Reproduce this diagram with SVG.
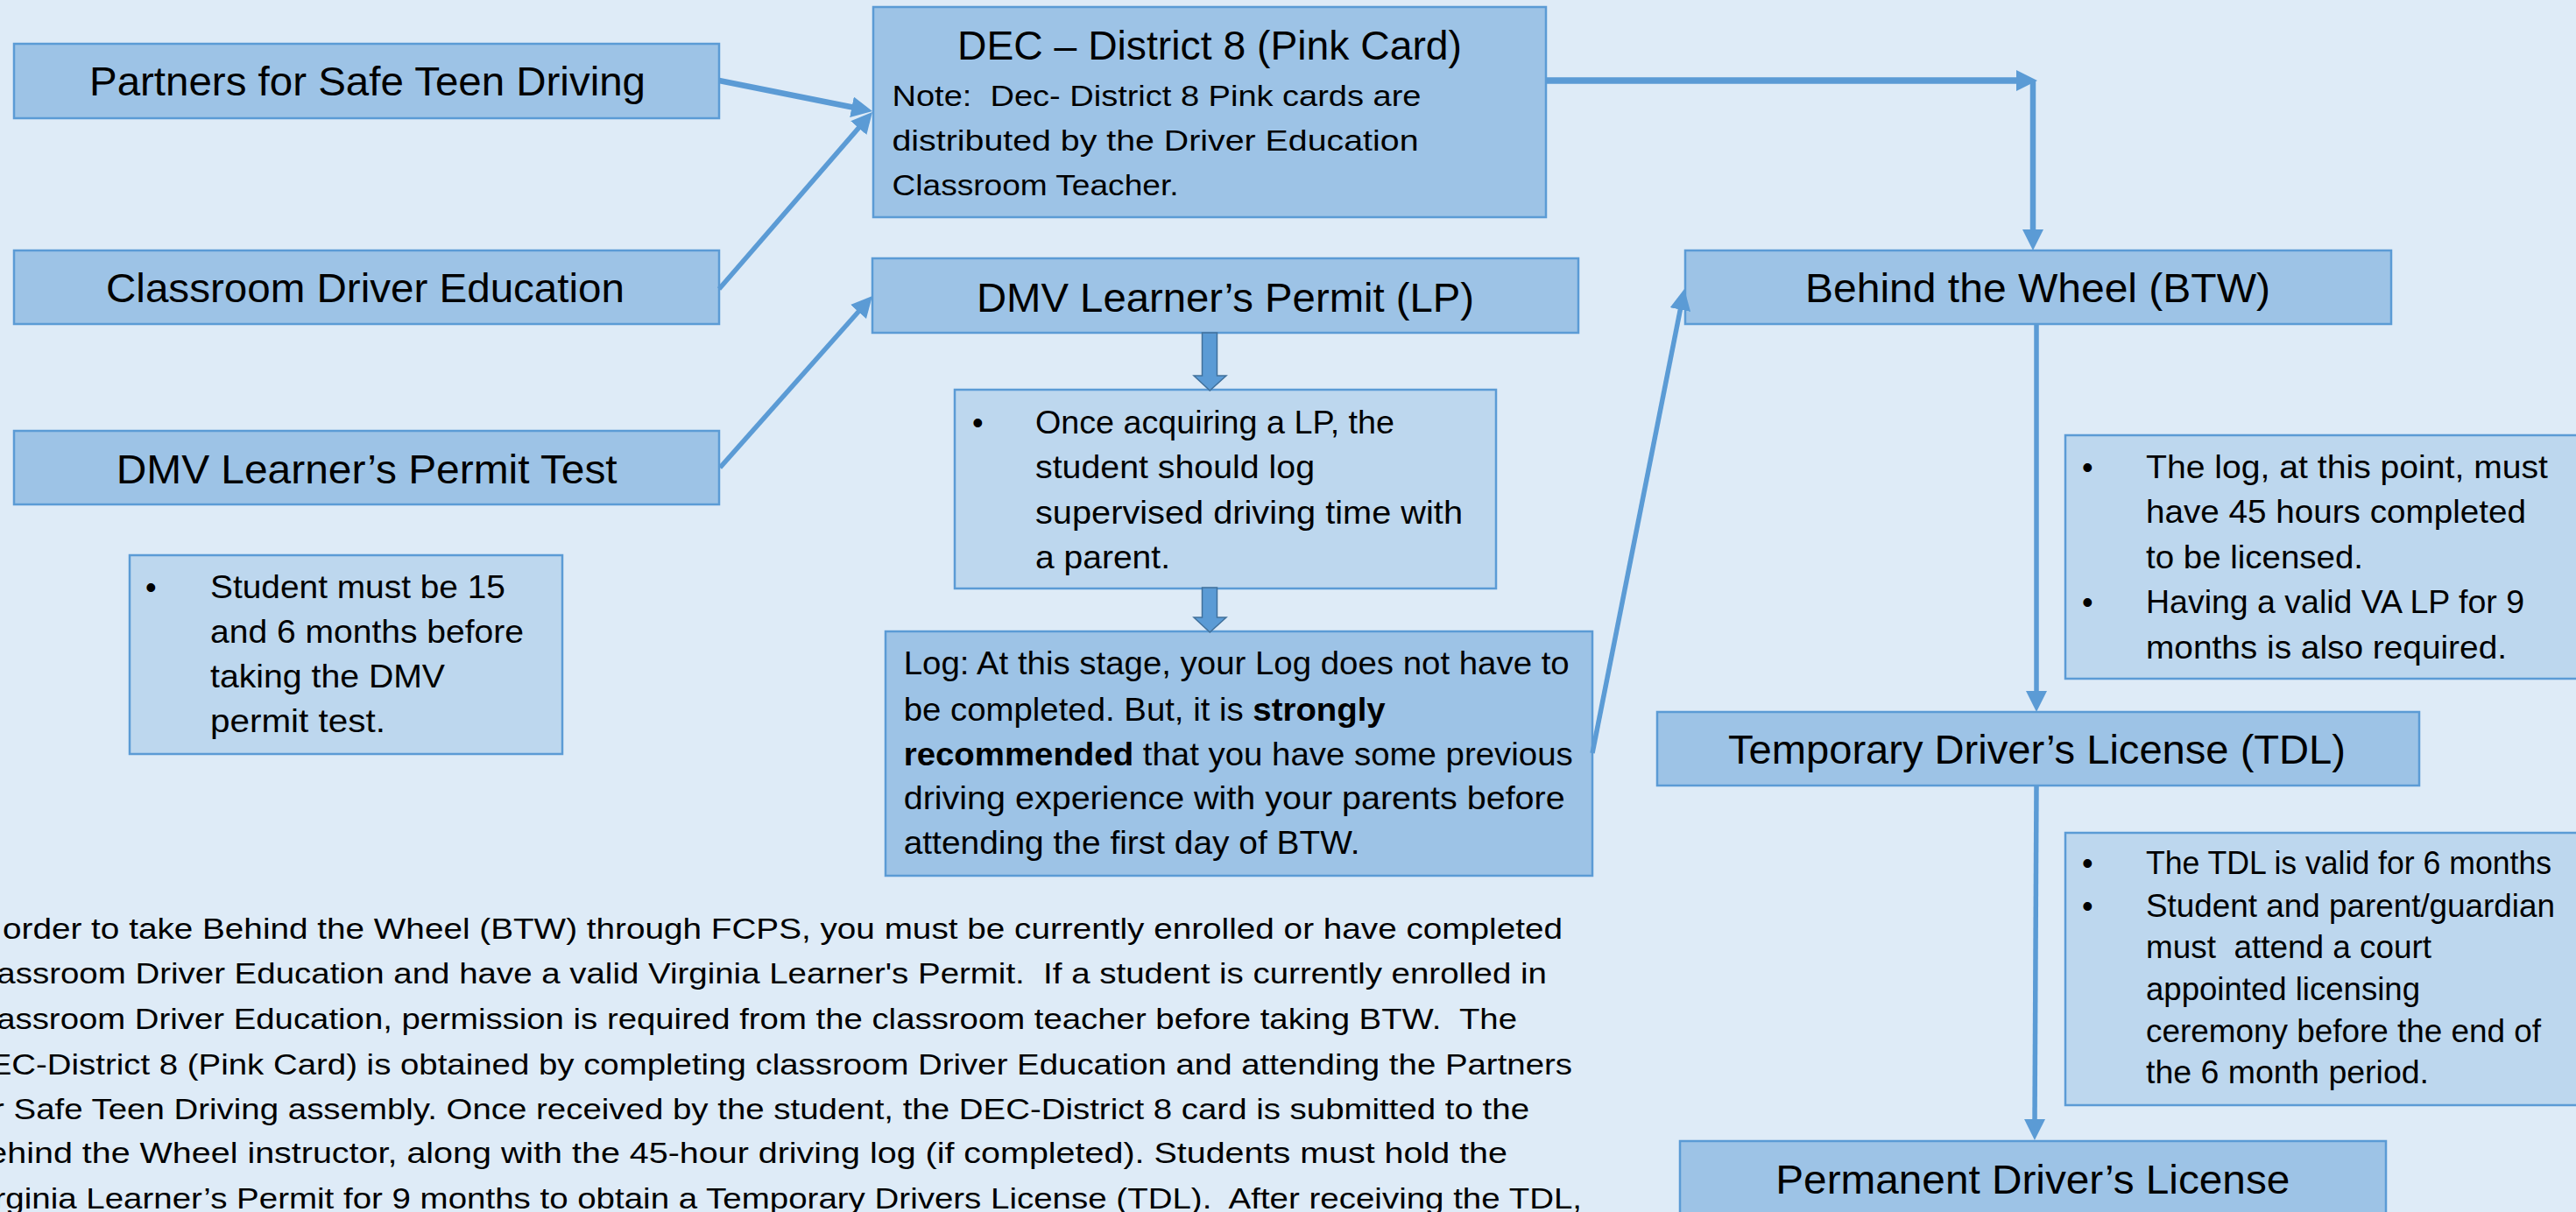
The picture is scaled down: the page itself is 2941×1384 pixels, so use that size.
<svg xmlns="http://www.w3.org/2000/svg" width="2941" height="1384" viewBox="0 0 2941 1384">
<style>
.box{fill:#9DC3E6;stroke:#5B9BD5;stroke-width:2.5}
.note{fill:#BDD7EE;stroke:#5B9BD5;stroke-width:2.5}
text{font-family:"Liberation Sans",Arial,sans-serif;fill:#000}
.t{font-size:46px;text-anchor:middle}
.n{font-size:36px}
.s{font-size:34px}
.c{fill:none;stroke:#5B9BD5;stroke-width:5.5}
.blk{fill:#5B9BD5;stroke:#41719C;stroke-width:1.5}
</style>
<defs>
<marker id="arr" markerUnits="userSpaceOnUse" markerWidth="26" markerHeight="26" refX="6" refY="12" orient="auto">
<path d="M0,0 L24,12 L0,24 z" fill="#5B9BD5"/>
</marker>
</defs>
<rect x="0" y="0" width="2941" height="1384" fill="#DEEBF7"/>

<g id="partners">
<rect class="box" x="16" y="50" width="805" height="85"/>
<text class="t" x="419.5" y="109" textLength="635" lengthAdjust="spacingAndGlyphs">Partners for Safe Teen Driving</text>
</g>
<g id="classroom">
<rect class="box" x="16" y="286" width="805" height="84"/>
<text class="t" x="417" y="345" textLength="592" lengthAdjust="spacingAndGlyphs">Classroom Driver Education</text>
</g>
<g id="dmv-test">
<rect class="box" x="16" y="492" width="805" height="84"/>
<text class="t" x="418.7" y="552" textLength="572" lengthAdjust="spacingAndGlyphs">DMV Learner’s Permit Test</text>
</g>
<g id="student-note">
<rect class="note" x="148" y="634" width="494" height="227"/>
<text class="n" x="166" y="683">•</text>
<text class="n" x="240" y="683" textLength="337" lengthAdjust="spacingAndGlyphs">Student must be 15</text>
<text class="n" x="240" y="734" textLength="358" lengthAdjust="spacingAndGlyphs">and 6 months before</text>
<text class="n" x="240" y="785" textLength="268" lengthAdjust="spacingAndGlyphs">taking the DMV</text>
<text class="n" x="240" y="836" textLength="200" lengthAdjust="spacingAndGlyphs">permit test.</text>
</g>
<g id="dec">
<rect class="box" x="997" y="8" width="768" height="240"/>
<text class="t" x="1381" y="68" textLength="576" lengthAdjust="spacingAndGlyphs">DEC – District 8 (Pink Card)</text>
<text class="s" x="1018.5" y="121" xml:space="preserve" textLength="604" lengthAdjust="spacingAndGlyphs">Note:  Dec- District 8 Pink cards are</text>
<text class="s" x="1018.5" y="172" textLength="601" lengthAdjust="spacingAndGlyphs">distributed by the Driver Education</text>
<text class="s" x="1018.5" y="223" textLength="327" lengthAdjust="spacingAndGlyphs">Classroom Teacher.</text>
</g>
<g id="lp">
<rect class="box" x="996" y="295" width="806" height="85"/>
<text class="t" x="1399" y="356" textLength="568" lengthAdjust="spacingAndGlyphs">DMV Learner’s Permit (LP)</text>
</g>
<g id="lp-note">
<rect class="note" x="1090" y="445" width="618" height="227"/>
<text class="n" x="1110" y="495">•</text>
<text class="n" x="1182" y="495" textLength="410" lengthAdjust="spacingAndGlyphs">Once acquiring a LP, the</text>
<text class="n" x="1182" y="546" textLength="319" lengthAdjust="spacingAndGlyphs">student should log</text>
<text class="n" x="1182" y="598" textLength="488" lengthAdjust="spacingAndGlyphs">supervised driving time with</text>
<text class="n" x="1182" y="649" textLength="154" lengthAdjust="spacingAndGlyphs">a parent.</text>
</g>
<g id="log">
<rect class="box" x="1011" y="721" width="807" height="279"/>
<text class="n" x="1031.7" y="770" textLength="760" lengthAdjust="spacingAndGlyphs">Log: At this stage, your Log does not have to</text>
<text class="n" x="1031.7" y="822.6" textLength="550" lengthAdjust="spacingAndGlyphs">be completed. But, it is <tspan font-weight="bold">strongly</tspan></text>
<text class="n" x="1031.7" y="873.5" textLength="764" lengthAdjust="spacingAndGlyphs"><tspan font-weight="bold">recommended</tspan> that you have some previous</text>
<text class="n" x="1031.7" y="924.4" textLength="755" lengthAdjust="spacingAndGlyphs">driving experience with your parents before</text>
<text class="n" x="1031.7" y="975" textLength="521" lengthAdjust="spacingAndGlyphs">attending the first day of BTW.</text>
</g>
<g id="btw">
<rect class="box" x="1924" y="286" width="806" height="84"/>
<text class="t" x="2326.5" y="345" textLength="531" lengthAdjust="spacingAndGlyphs">Behind the Wheel (BTW)</text>
</g>
<g id="btw-note">
<rect class="note" x="2358" y="497" width="600" height="278"/>
<text class="n" x="2377" y="546">•</text>
<text class="n" x="2450" y="546" textLength="459" lengthAdjust="spacingAndGlyphs">The log, at this point, must</text>
<text class="n" x="2450" y="597" textLength="434" lengthAdjust="spacingAndGlyphs">have 45 hours completed</text>
<text class="n" x="2450" y="649" textLength="248" lengthAdjust="spacingAndGlyphs">to be licensed.</text>
<text class="n" x="2377" y="700">•</text>
<text class="n" x="2450" y="700" textLength="432" lengthAdjust="spacingAndGlyphs">Having a valid VA LP for 9</text>
<text class="n" x="2450" y="752" textLength="412" lengthAdjust="spacingAndGlyphs">months is also required.</text>
</g>
<g id="tdl">
<rect class="box" x="1892" y="813" width="870" height="84"/>
<text class="t" x="2325.5" y="872" textLength="705" lengthAdjust="spacingAndGlyphs">Temporary Driver’s License (TDL)</text>
</g>
<g id="tdl-note">
<rect class="note" x="2358" y="951" width="600" height="311"/>
<text class="n" x="2377" y="998">•</text>
<text class="n" x="2450" y="998" textLength="463" lengthAdjust="spacingAndGlyphs">The TDL is valid for 6 months</text>
<text class="n" x="2377" y="1047">•</text>
<text class="n" x="2450" y="1047" textLength="467" lengthAdjust="spacingAndGlyphs">Student and parent/guardian</text>
<text class="n" x="2450" y="1094" xml:space="preserve" textLength="326" lengthAdjust="spacingAndGlyphs">must  attend a court</text>
<text class="n" x="2450" y="1142" textLength="313" lengthAdjust="spacingAndGlyphs">appointed licensing</text>
<text class="n" x="2450" y="1190" textLength="451" lengthAdjust="spacingAndGlyphs">ceremony before the end of</text>
<text class="n" x="2450" y="1237" textLength="323" lengthAdjust="spacingAndGlyphs">the 6 month period.</text>
</g>
<g id="permanent">
<rect class="box" x="1918" y="1303" width="806" height="100"/>
<text class="t" x="2320.8" y="1363" textLength="587" lengthAdjust="spacingAndGlyphs">Permanent Driver’s License</text>
</g>
<g id="paragraph">
<text class="s" x="-40" y="1072" textLength="1824" lengthAdjust="spacingAndGlyphs">In order to take Behind the Wheel (BTW) through FCPS, you must be currently enrolled or have completed</text>
<text class="s" x="-40" y="1123" xml:space="preserve" textLength="1806" lengthAdjust="spacingAndGlyphs">Classroom Driver Education and have a valid Virginia Learner's Permit.  If a student is currently enrolled in</text>
<text class="s" x="-40" y="1175" xml:space="preserve" textLength="1772" lengthAdjust="spacingAndGlyphs">Classroom Driver Education, permission is required from the classroom teacher before taking BTW.  The</text>
<text class="s" x="-40" y="1227" textLength="1835" lengthAdjust="spacingAndGlyphs">DEC-District 8 (Pink Card) is obtained by completing classroom Driver Education and attending the Partners</text>
<text class="s" x="-40" y="1278" textLength="1786" lengthAdjust="spacingAndGlyphs">for Safe Teen Driving assembly. Once received by the student, the DEC-District 8 card is submitted to the</text>
<text class="s" x="-40" y="1328" textLength="1761" lengthAdjust="spacingAndGlyphs">Behind the Wheel instructor, along with the 45-hour driving log (if completed). Students must hold the</text>
<text class="s" x="-40" y="1380" xml:space="preserve" textLength="1846" lengthAdjust="spacingAndGlyphs">Virginia Learner’s Permit for 9 months to obtain a Temporary Drivers License (TDL).  After receiving the TDL,</text>
</g>

<g id="connectors">
<path class="c" style="stroke-width:6.5" d="M821,92 L978.4,123.5" marker-end="url(#arr)"/>
<path class="c" d="M821,330 L984.2,141.6" marker-end="url(#arr)"/>
<path class="c" d="M822,534 L984,351.5" marker-end="url(#arr)"/>
<path class="c" style="stroke-width:7.5" d="M1765,92 L2308,92" marker-end="url(#arr)"/>
<path class="c" style="stroke-width:6.5" d="M2321,92 L2321,268" marker-end="url(#arr)"/>
<path class="c" d="M1818,860 L1919.5,347.7" marker-end="url(#arr)"/>
<path class="c" d="M2325,370 L2325,795" marker-end="url(#arr)"/>
<path class="c" d="M2325,897 L2323,1284" marker-end="url(#arr)"/>
<polygon class="blk" points="1372.5,380 1389.5,380 1389.5,429 1400,429 1381.25,446 1363,429 1372.5,429"/>
<polygon class="blk" points="1372.5,671 1389.5,671 1389.5,705 1400,705 1381.25,722 1363,705 1372.5,705"/>
</g>
</svg>
